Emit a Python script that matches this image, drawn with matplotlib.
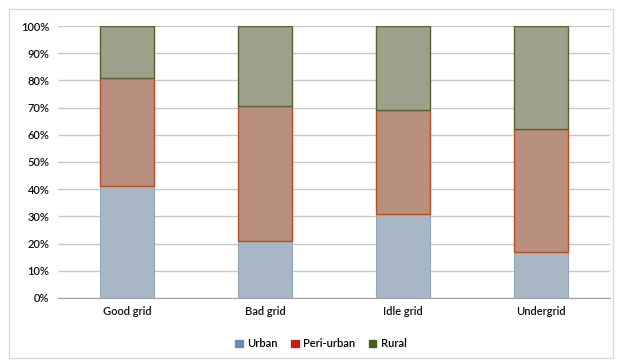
import matplotlib.pyplot as plt
from matplotlib.patches import Rectangle, Patch
import numpy as np

plt.rcParams['font.family'] = ['Lato', 'DejaVu Sans']
plt.rcParams['font.weight'] = 'semibold'

categories = ['Good grid', 'Bad grid', 'Idle grid', 'Undergrid']
urban = [41, 21, 31, 17]
peri_urban = [40, 49.5, 38, 45]
rural = [19, 29.5, 31, 38]

fig = plt.figure(figsize=(6.17, 3.62), dpi=100)
fig.patches.append(Rectangle((0.015, 0.01), 0.978, 0.965, transform=fig.transFigure,
                             fill=False, edgecolor='#d9d9d9', linewidth=1))
ax = fig.add_axes([0.094, 0.177, 0.895, 0.751])

x = np.arange(len(categories))
w = 0.39
ax.bar(x, urban, w, color='#a7b7c6', edgecolor='#8fa5b8', linewidth=0.8, zorder=3)
ax.bar(x, peri_urban, w, bottom=urban, color='#b98f7f', edgecolor='#b5501e', linewidth=1, zorder=3)
bottom2 = np.array(urban) + np.array(peri_urban)
ax.bar(x, rural, w, bottom=bottom2, color='#9ea08b', edgecolor='#55632f', linewidth=1, zorder=3)

ax.set_xlim(-0.5, len(categories) - 0.5)
ax.set_ylim(0, 100)
ax.set_yticks(range(0, 101, 10))
ax.set_yticklabels([f'{v}%' for v in range(0, 101, 10)])
ax.set_xticks(x)
ax.set_xticklabels(categories)
ax.tick_params(length=0, labelsize=8, pad=6, colors='#111111')
ax.grid(axis='y', color='#c8c8c8', linewidth=1, zorder=0)
for s in ['top', 'right', 'left']:
    ax.spines[s].set_visible(False)
ax.spines['bottom'].set_color('#a0a0a0')

handles = [Patch(color='#6a8fb3', label='Urban'),
           Patch(color='#c0201c', label='Peri-urban'),
           Patch(color='#4a5e1c', label='Rural')]
fig.legend(handles=handles, loc='center', bbox_to_anchor=(0.52, 0.05), ncol=3,
           frameon=False, fontsize=8, handlelength=0.7, handleheight=0.7,
           handletextpad=0.4, columnspacing=1.2)

fig.savefig('out.png', dpi=100)
